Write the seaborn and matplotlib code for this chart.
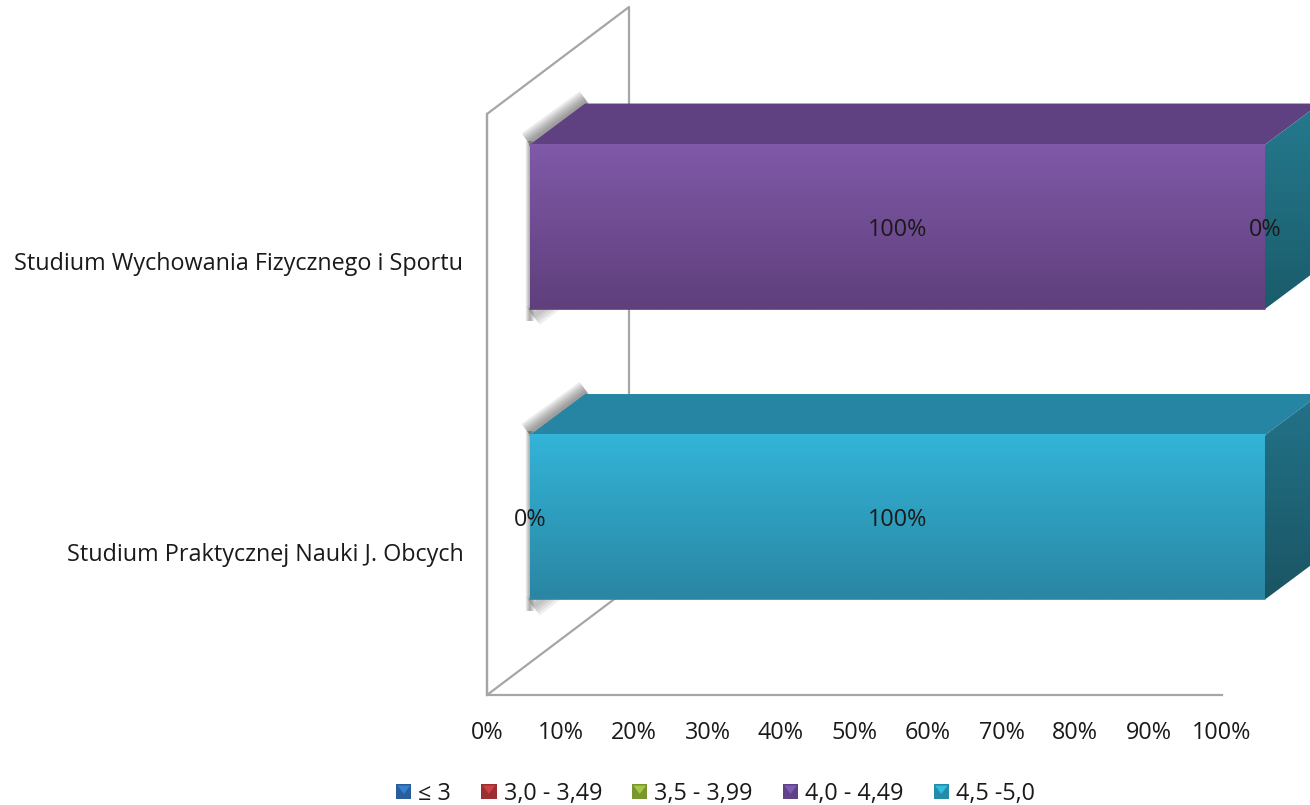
import numpy as np
import pandas as pd
import seaborn as sns
import matplotlib.pyplot as plt
from matplotlib.colors import to_rgb
from matplotlib.legend_handler import HandlerBase
from matplotlib.patches import Patch, Polygon
from matplotlib.lines import Line2D
from matplotlib.ticker import PercentFormatter
from matplotlib.transforms import Affine2D, IdentityTransform

categories = ["Studium Wychowania Fizycznego i Sportu", "Studium Praktycznej Nauki J. Obcych"]
series_names = ["≤ 3", "3,0 - 3,49", "3,5 - 3,99", "4,0 - 4,49", "4,5 -5,0"]
v_le3 = [0, 0]
v_30 = [0, 0]
v_35 = [0, 0]
v_40 = [100, 0]
v_45 = [0, 100]
series_values = [v_le3, v_30, v_35, v_40, v_45]
labelled_series = ["4,0 - 4,49", "4,5 -5,0"]
x_ticks = list(range(0, 101, 10))

legend_colors = ["#2f6fb5", "#b5383a", "#8fb03a", "#6f4f9e", "#2aa5c5"]
front_top = {"4,0 - 4,49": "#8059a8", "4,5 -5,0": "#33b4d8"}
front_bottom = {"4,0 - 4,49": "#5f3f7c", "4,5 -5,0": "#2a86a2"}
roof = {"4,0 - 4,49": "#5f4080", "4,5 -5,0": "#2685a2"}
cap_top = ["#257a8e", "#237389"]
cap_bottom = ["#1a5c6b", "#1a5564"]

WALL = "#a6a6a6"
FS = 16.8
W, H = 1310, 805
DEPTH = (142, 107)      # full depth of the box, px
BAR_SHIFT = (43, 32.5)  # front of the bars inside the box
BAR_DEPTH = (55, 41)

sns.set_theme(style="white")
plt.rcParams["font.family"] = ["Open Sans", "DejaVu Sans"]

fig = plt.figure(figsize=(W / 100, H / 100), dpi=100)
ax = fig.add_axes([487 / W, (H - 695) / H, 735 / W, 581 / H])

front_tr = ax.transData + Affine2D().translate(*BAR_SHIFT)

# stacked bars, one call per series
left = np.zeros(len(categories))
series_left = {}
for name, vals, col in zip(series_names, series_values, legend_colors):
    df = pd.DataFrame({"cat": categories, "val": vals})
    series_left[name] = left.copy()
    sns.barplot(data=df, x="val", y="cat", orient="y", color=col, saturation=1, width=0.566,
                left=left.copy(), ax=ax, clip_on=False, zorder=4, linewidth=0, edgecolor="none")
    left = left + np.array(vals)

ax.set_xlim(0, 100)
ax.set_ylim(1.5, -0.5)


def face(verts, top, bottom, z):
    """polygon in pixels, filled with a vertical gradient"""
    verts = np.array(verts, dtype=float)
    t = np.linspace(0, 1, 64)[:, None, None]
    grad = (1 - t) * np.array(to_rgb(top))[None, None, :] + t * np.array(to_rgb(bottom))[None, None, :]
    xlim, ylim = ax.get_xlim(), ax.get_ylim()
    im = ax.imshow(grad, aspect="auto", origin="upper", interpolation="bilinear", zorder=z,
                   extent=[verts[:, 0].min(), verts[:, 0].max(), verts[:, 1].min(), verts[:, 1].max()],
                   transform=IdentityTransform())
    ax.set_xlim(xlim)
    ax.set_ylim(ylim)
    im.set_clip_box(fig.bbox)
    im.set_clip_path(Polygon(verts, closed=True, transform=IdentityTransform()))


def soft_line(xs, ys, widths, alpha):
    # stacked wide strokes give a blurred edge
    for lw in widths:
        ax.add_line(Line2D(xs, ys, color="#444444", lw=lw, alpha=alpha, transform=IdentityTransform(),
                           clip_on=False, zorder=2, solid_capstyle="butt"))


for container, name in zip(ax.containers, series_names):
    for i, bar in enumerate(container):
        bar.set_transform(front_tr)
        if bar.get_width() == 0:
            bar.set_visible(False)
            continue
        x0, x1 = bar.get_x(), bar.get_x() + bar.get_width()
        y0, y1 = bar.get_y() + bar.get_height(), bar.get_y()
        (px0, py0), (px1, py1) = front_tr.transform([(x0, y0), (x1, y1)])
        dx, dy = BAR_DEPTH

        # soft shadow left of the box
        soft_line([px0, px0], [py0 - 12, py1 + 4], [6, 4.5, 3, 1.5], 0.12)
        soft_line([px0 - 1, px0 + dx + 2], [py1 + 1, py1 + dy + 2], [18, 15, 12, 9, 6, 3], 0.11)
        soft_line([px0 + 3, px0 + 32], [py0 - 7, py0 + 15], [16, 12, 8, 4], 0.09)

        ax.add_patch(Polygon([(px0, py1), (px1, py1), (px1 + dx, py1 + dy), (px0 + dx, py1 + dy)],
                             closed=True, fc=roof[name], ec="none", transform=IdentityTransform(),
                             clip_on=False, zorder=3))
        face([(px1, py0), (px1, py1), (px1 + dx, py1 + dy), (px1 + dx, py0 + dy)], cap_top[i], cap_bottom[i], 3)
        bar.set_facecolor(front_bottom[name])
        face([(px0, py0), (px1, py0), (px1, py1), (px0, py1)], front_top[name], front_bottom[name], 5)
        ax.add_line(Line2D([px0, px1], [py1, py1], color=front_top[name], lw=1.5, transform=IdentityTransform(),
                           clip_on=False, zorder=6))
        ax.add_line(Line2D([px0, px1], [py0, py0], color=front_bottom[name], lw=1.2, transform=IdentityTransform(),
                           clip_on=False, zorder=6))

# data labels
for name in labelled_series:
    idx = series_names.index(name)
    vals = series_values[idx]
    for i, v in enumerate(vals):
        ax.text(series_left[name][i] + v / 2, i + 0.01, f"{v}%", transform=front_tr, ha="center", va="center",
                fontsize=FS, color="#1a1a1a", zorder=8, clip_on=False)

# walls of the box
(bx, by), (tx, ty) = ax.transAxes.transform([(0, 0), (0, 1)])
wall_x = [bx, tx, tx + DEPTH[0], bx + DEPTH[0], bx]
wall_y = [by, ty, ty + DEPTH[1], by + DEPTH[1], by]
ax.add_line(Line2D(wall_x, wall_y, color=WALL, lw=1.6, transform=IdentityTransform(), clip_on=False, zorder=1))

sns.despine(ax=ax, top=True, right=True)
for side in ["left", "bottom"]:
    ax.spines[side].set_color(WALL)
    ax.spines[side].set_linewidth(1.6)

ax.set_xlabel("")
ax.set_ylabel("")
ax.set_xticks(x_ticks)
ax.xaxis.set_major_formatter(PercentFormatter(decimals=0))
ax.tick_params(axis="x", length=0, pad=19, labelsize=FS, labelcolor="#1a1a1a")
ax.tick_params(axis="y", length=0, pad=17, labelsize=FS, labelcolor="#1a1a1a")
for lbl in ax.get_yticklabels():
    lbl.set_transform(lbl.get_transform() + Affine2D().translate(0, -2))


class BevelHandler(HandlerBase):
    def create_artists(self, legend, orig, xd, yd, width, height, fontsize, trans):
        col = np.array(to_rgb(orig.get_facecolor()))
        s = 11
        x0 = width - s
        y0 = (height - s) / 2
        base = Polygon([(x0, y0), (x0 + s, y0), (x0 + s, y0 + s), (x0, y0 + s)], fc=col * 0.85, ec="none", transform=trans)
        tri = Polygon([(x0 + 1, y0 + s - 1), (x0 + s - 1, y0 + s - 1), (x0 + s / 2, y0 + 4)],
                      fc=np.minimum(col * 1.15, 1), ec="none", transform=trans)
        return [base, tri]


handles = [Patch(facecolor=c, label=n) for c, n in zip(legend_colors, series_names)]
fig.legend(handles=handles, labels=series_names, ncol=5, frameon=False, fontsize=FS,
           loc="center", bbox_to_anchor=(715 / W, 1 - 794 / H), handler_map={Patch: BevelHandler()},
           handlelength=0.7, handletextpad=0.3, columnspacing=1.24, labelcolor="#1a1a1a")

fig.savefig("out.png", dpi=100)
